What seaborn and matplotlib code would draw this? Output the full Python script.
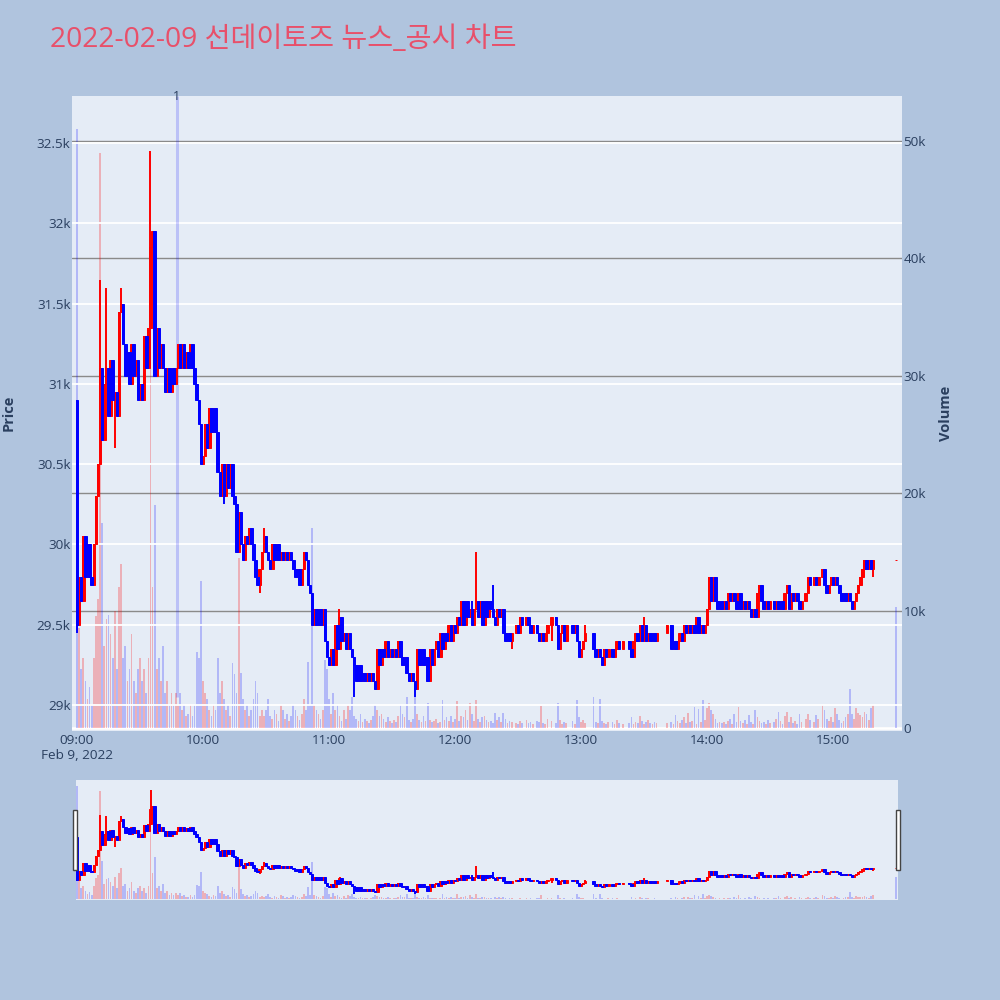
import numpy as np
import pandas as pd
import matplotlib
matplotlib.use('Agg')
import matplotlib.pyplot as plt
import seaborn as sns
from matplotlib.patches import Rectangle

title = '2022-02-09 선데이토즈 뉴스_공시 차트'

# 1-minute closes from 09:00 (minute 0) to 15:30 (minute 390); None = no trade
first_open = 30900
close_px = [
    29500, 29800, 29650, 30050, 29800, 30000, 29800, 29750, 30000, 30300,
    30500, 31100, 30650, 31000, 31100, 30800, 31150, 30900, 30950, 30800,
    31450, 31500, 31250, 31050, 31200, 31000, 31250, 31050, 31150, 30900,
    31000, 30900, 31300, 31100, 31350, 31850, 31950, 31050, 31350, 31100,
    31250, 31100, 30950, 31100, 30950, 31100, 31000, 31100, 31250, 31100,
    31250, 31100, 31200, 31100, 31250, 31100, 31000, 30900, 30750, 30500,
    30550, 30750, 30600, 30850, 30700, 30850, 30700, 30450, 30300, 30500,
    30300, 30500, 30350, 30500, 30300, 30250, 29950, 30200, 30000, 29900,
    30050, 30000, 30100, 30000, 29900, 29800, 29750, 29850, 29950, 30050,
    29950, 29900, 29850, 30000, 29900, 30000, 29900, 29950, 29900, 29950,
    29900, 29950, 29900, 29850, 29800, 29850, 29750, 29850, 29950, 29900,
    29750, 29700, 29500, 29600, 29500, 29600, 29500, 29600, 29400, 29300,
    29250, 29350, 29250, 29500, 29350, 29550, 29400, 29450, 29350, 29450,
    29350, 29300, 29250, 29150, 29250, 29150, 29200, 29150, 29200, 29150,
    29200, 29150, 29100, 29350, 29250, 29350, 29300, 29400, 29300, 29350,
    29300, 29350, 29300, 29400, 29300, 29250, 29300, 29200, 29150, 29200,
    29150, 29100, 29350, 29250, 29350, 29250, 29300, 29150, 29350, 29250,
    29350, 29400, 29300, 29450, 29350, 29450, 29400, 29500, 29400, 29500,
    29450, 29550, 29500, 29650, 29500, 29650, 29550, 29600, 29500, 29600,
    29650, 29550, 29650, 29500, 29650, 29550, 29650, 29600, 29550, 29500,
    29600, 29550, 29600, 29450, 29400, 29450, 29400, 29450, None, 29500,
    29450, 29550, 29500, None, 29550, 29500, 29450, 29500, None, 29450,
    29400, 29450, 29400, 29450, 29500, None, 29550, None, 29500, 29350,
    29450, 29500, 29400, 29500, None, None, 29450, 29500, 29400, 29300,
    29350, 29400, 29450, None, None, None, 29350, 29300, 29350, 29300,
    29250, 29350, 29300, 29350, None, 29300, 29350, 29400, 29350, None,
    29400, None, None, 29350, 29300, 29400, 29450, 29400, 29500, 29400,
    29500, 29400, 29450, 29400, 29450, 29400, 29450, None, None, None,
    None, 29500, None, 29350, 29400, 29350, 29400, 29450, 29400, 29500,
    29450, 29500, 29450, 29500, 29450, 29550, 29450, 29500, 29450, 29500,
    29600, 29800, 29650, 29800, 29650, 29600, 29650, 29600, 29650, 29600,
    29700, 29650, 29700, 29650, 29600, 29700, 29600, 29650, 29600, 29650,
    29600, 29550, 29600, 29550, 29700, 29750, 29650, 29600, 29650, 29600,
    29650, None, 29600, 29650, 29600, 29650, 29600, 29700, 29750, 29600,
    29700, 29650, 29700, 29650, 29600, 29650, None, 29700, 29800, 29750,
    None, 29800, 29750, 29800, None, 29850, 29750, 29700, 29750, 29800,
    29750, 29800, 29750, 29700, 29650, 29700, 29650, 29700, 29650, 29600,
    29650, 29700, 29750, 29800, 29850, 29900, 29850, 29900, 29850, 29900,
    None, None, None, None, None, None, None, None, None, None,
    29900,
]

volume = [
    51000, 8500, 5000, 6000, 4000, 2500, 3500, 2000, 6000, 9500,
    11000, 49000, 17500, 7000, 9300, 9600, 8000, 6000, 10000, 5000,
    12000, 14000, 6000, 7000, 4000, 5000, 8000, 4000, 3000, 5000,
    6000, 4000, 5000, 3000, 6000, 49000, 12000, 19000, 5000, 6000,
    4000, 7000, 3000, 4000, 2000, 3000, 2000, 3000, 2000, 3000,
    1500, 2000, 1000, 1200, 2000, 1000, 2000, 6500, 6000, 12500,
    4000, 3000, 2500, 1500, 1000, 2000, 1500, 6000, 3000, 4000,
    2500, 1500, 2000, 1000, 5500, 4600, 3000, 14500, 4700, 2500,
    1500, 2000, 1000, 1500, 2500, 4000, 3000, 1000, 1500, 1000,
    1500, 2500, 1000, 800, 1500, 1200, 600, 2000, 1500, 800,
    1200, 600, 1000, 2000, 1500, 1000, 700, 1200, 2500, 1500,
    5600, 2000, 17000, 2000, 1500, 1200, 800, 1500, 5800, 5000,
    2500, 1200, 3000, 1500, 2000, 1000, 600, 1500, 800, 2000,
    1500, 2600, 1000, 800, 600, 1200, 500, 800, 600, 400,
    700, 1000, 2000, 1500, 1000, 1200, 800, 500, 900, 600,
    400, 700, 500, 1000, 2000, 1200, 900, 2600, 700, 500,
    800, 2600, 1200, 700, 500, 1000, 600, 2100, 700, 500,
    600, 800, 400, 500, 2400, 700, 900, 600, 1000, 500,
    800, 2300, 600, 1000, 900, 1500, 700, 2100, 1200, 600,
    2400, 800, 500, 900, 1000, 700, 500, 600, 400, 1300,
    700, 900, 500, 1300, 800, 400, 600, 500, 0, 400,
    300, 600, 400, 0, 700, 400, 500, 300, 0, 600,
    500, 1900, 400, 300, 800, 0, 600, 0, 400, 2100,
    700, 300, 500, 400, 0, 0, 600, 300, 2400, 900,
    500, 700, 400, 0, 0, 0, 2600, 500, 400, 2500,
    600, 400, 300, 500, 0, 500, 300, 700, 400, 0,
    300, 0, 0, 400, 900, 300, 500, 400, 1000, 600,
    300, 500, 700, 400, 300, 500, 400, 0, 0, 0,
    0, 400, 0, 500, 300, 1100, 600, 400, 700, 900,
    400, 1300, 500, 600, 1800, 300, 1600, 500, 2400, 700,
    1700, 2100, 1500, 1200, 800, 400, 500, 400, 500, 300,
    600, 800, 300, 1200, 500, 1800, 600, 400, 700, 300,
    1100, 500, 300, 1500, 900, 600, 400, 500, 300, 700,
    400, 0, 500, 800, 1400, 600, 300, 1000, 1400, 500,
    900, 400, 600, 300, 1200, 500, 0, 800, 1200, 700,
    0, 500, 1100, 800, 0, 2000, 1500, 800, 600, 900,
    500, 1700, 1200, 700, 400, 600, 900, 1200, 3300, 1200,
    800, 1700, 1300, 1100, 900, 1400, 1200, 700, 1700, 2000,
    0, 0, 0, 0, 0, 0, 0, 0, 0, 0,
    10300,
]

# wicks that reach past the candle bodies
hi_minutes = [11, 14, 21, 35, 89, 125, 188, 190, 198, 242, 270]
hi_prices = [31650, 31600, 31600, 32450, 30100, 29600, 29650, 29950, 29750, 29500, 29550]
lo_minutes = [0, 18, 70, 87, 132, 161, 207, 226, 379]
lo_prices = [29450, 30600, 30250, 29700, 29050, 29050, 29350, 29400, 29800]

news_minutes = [47.6]
news_labels = ['1']

price_ticks = [29000, 29500, 30000, 30500, 31000, 31500, 32000, 32500]
price_labels = ['29k', '29.5k', '30k', '30.5k', '31k', '31.5k', '32k', '32.5k']
vol_ticks = [0, 10000, 20000, 30000, 40000, 50000]
vol_labels = ['0', '10k', '20k', '30k', '40k', '50k']
time_ticks = [0, 60, 120, 180, 240, 300, 360]
time_labels = ['09:00\nFeb 9, 2022', '10:00', '11:00', '12:00', '13:00', '14:00', '15:00']

assert len(close_px) == 391 and len(volume) == 391

df = pd.DataFrame({'minute': np.arange(391), 'close': pd.Series(close_px, dtype=float),
                   'volume': volume})
df['open'] = df['close'].ffill().shift(1)
df.loc[0, 'open'] = first_open
df = df.dropna(subset=['close']).copy()
df['high'] = df[['open', 'close']].max(axis=1)
df['low'] = df[['open', 'close']].min(axis=1)
for m, p in zip(hi_minutes, hi_prices):
    df.loc[df['minute'] == m, 'high'] = p
for m, p in zip(lo_minutes, lo_prices):
    df.loc[df['minute'] == m, 'low'] = p
df['up'] = df['close'] >= df['open']
df['vol_up'] = df['close'] > df['open']

RED = '#ff0000'
BLUE = '#0000ff'
VOL_RED = (1, 0, 0, 0.25)
VOL_BLUE = (0, 0, 1, 0.22)
BG = '#E5ECF6'
TXT = '#2a3f5f'

sns.set_theme(style='white')
plt.rcParams['font.family'] = ['Open Sans', 'Noto Sans CJK KR', 'DejaVu Sans']


def draw_candles(ax, d, body_w, wick_lw, edge_lw):
    for up, color in [(True, RED), (False, BLUE)]:
        s = d[d['up'] == up]
        ax.vlines(s['minute'], s['low'], s['high'], color=color, lw=wick_lw, zorder=3)
        bottom = s[['open', 'close']].min(axis=1)
        height = (s['close'] - s['open']).abs()
        ax.bar(s['minute'], height, width=body_w, bottom=bottom, color=color,
               edgecolor=color, linewidth=edge_lw, zorder=4)


def draw_volume(ax, d, width):
    cols = [VOL_RED if u else VOL_BLUE for u in d['vol_up']]
    ax.bar(d['minute'], d['volume'], width=width, color=cols, linewidth=0, zorder=2)


price_lim = (28838, 32793)
vol_lim = (-256, 53833)

fig = plt.figure(figsize=(10, 10), dpi=100, facecolor='#B0C4DE')

# main chart: price on the left axis, volume on the right axis
ax = fig.add_axes([0.072, 0.269, 0.830, 0.635])
axv = ax.twinx()
axv.set_zorder(ax.get_zorder() - 1)
ax.patch.set_visible(False)
axv.patch.set_visible(True)
axv.set_facecolor(BG)

draw_volume(axv, df, 0.8)
axv.axhline(0, color='white', lw=2, zorder=1)
axv.set_ylim(*vol_lim)
axv.set_yticks(vol_ticks, vol_labels)
axv.grid(True, axis='y', color='#8a8a8a', lw=1)
axv.grid(False, axis='x')

draw_candles(ax, df, 1.2, 1.4, 0.7)
ax.set_ylim(*price_lim)
ax.set_xlim(-2.38, 392.86)
ax.set_yticks(price_ticks, price_labels)
ax.set_xticks(time_ticks, time_labels)
ax.grid(True, axis='y', color='white', lw=1.3)
ax.grid(False, axis='x')

for m, lab in zip(news_minutes, news_labels):
    ax.vlines(m, 29050, price_lim[1], color=(0, 0, 1, 0.18), lw=2.2, zorder=2)
    ax.text(m, price_lim[1], lab, ha='center', va='center', fontsize=9, color=TXT)

for a in (ax, axv):
    for sp in a.spines.values():
        sp.set_visible(False)
ax.tick_params(axis='y', length=0, pad=1, labelsize=9.7, labelcolor=TXT)
ax.tick_params(axis='x', length=0, pad=2.5, labelsize=9.7, labelcolor=TXT)
axv.tick_params(axis='y', length=0, pad=1, labelsize=9.7, labelcolor=TXT)

# range slider
rs = fig.add_axes([0.076, 0.100, 0.822, 0.120])
rsv = rs.twinx()
rsv.set_zorder(rs.get_zorder() - 1)
rs.patch.set_visible(False)
rsv.patch.set_visible(True)
rsv.set_facecolor(BG)
draw_volume(rsv, df, 0.8)
rsv.set_ylim(*vol_lim)
draw_candles(rs, df, 1.2, 1.4, 0.7)
rs.set_ylim(*price_lim)
rs.set_xlim(-0.48, 390.95)
for a in (rs, rsv):
    a.set_xticks([])
    a.set_yticks([])
    a.grid(False)
    for sp in a.spines.values():
        sp.set_visible(False)

for x0 in (0.073, 0.896):
    fig.patches.append(Rectangle((x0, 0.130), 0.004, 0.060, transform=fig.transFigure,
                                 facecolor='white', edgecolor='#444444', lw=1, zorder=5))

fig.text(0.05, 0.96, title, fontsize=20.3, color='#E8506A', ha='left', va='center')
fig.text(0.009, 0.587, 'Price', rotation=90, fontsize=10.5, fontweight='bold',
         color=TXT, ha='center', va='center')
fig.text(0.946, 0.587, 'Volume', rotation=90, fontsize=10.5, fontweight='bold',
         color=TXT, ha='center', va='center')

fig.savefig('out.png', dpi=100, facecolor=fig.get_facecolor())
